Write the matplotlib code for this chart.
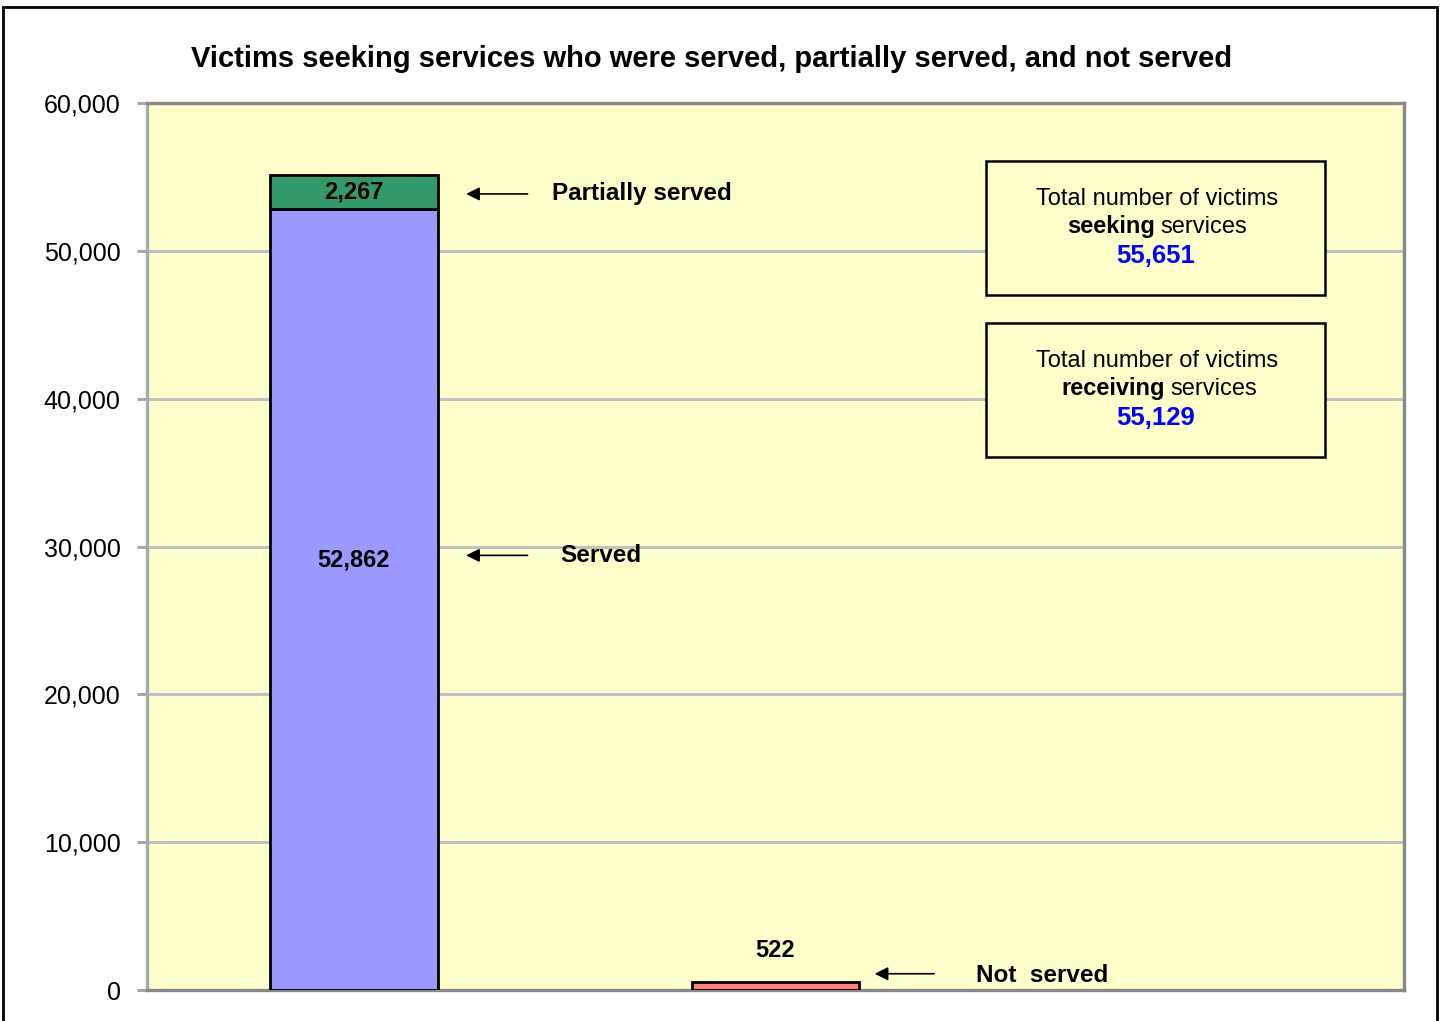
import matplotlib.pyplot as plt
from matplotlib.patches import Rectangle

# data
categories = ['Served / partially served', 'Not served', '']
served = [52862, 0]
partially_served = [2267, 0]
not_served = [0, 522]
total_seeking = 55651
total_receiving = 55129
yticks = [0, 10000, 20000, 30000, 40000, 50000, 60000]

plt.rcParams['font.family'] = ['Liberation Sans', 'DejaVu Sans']

W, H = 1442, 1021
fig = plt.figure(figsize=(W / 100, H / 100), dpi=100)


def fx(px):
    return px / W


def fy(py):
    return 1 - py / H


ax = fig.add_axes([fx(147), fy(990), fx(1404) - fx(147), fy(103) - fy(990)])
ax.set_facecolor('#FFFFCC')

x = [-0.006, 1]
w = 0.4
ax.bar(x[0], served[0], width=w, color='#9999FF', edgecolor='black', linewidth=2, zorder=3)
ax.bar(x[0], partially_served[0], bottom=served[0], width=w, color='#339966',
       edgecolor='black', linewidth=2, zorder=3)
ax.bar(x[1], not_served[1], width=w, color='#FF8080', edgecolor='black', linewidth=2, zorder=3)

ax.set_xlim(-0.5, 2.5)
ax.set_ylim(0, 60000)
ax.set_yticks(yticks)
ax.set_yticklabels([f'{v:,}' for v in yticks], fontsize=18)
ax.set_xticks([])
ax.tick_params(axis='y', length=7, width=2, color='#A0A0A0', pad=12)
ax.yaxis.grid(True, color='#C0C0C0', linewidth=2.2, zorder=0)
ax.set_axisbelow(True)
for side in ['top', 'right', 'bottom']:
    ax.spines[side].set_color('#888888')
    ax.spines[side].set_linewidth(2.4)
ax.spines['left'].set_color('#AAAAAA')
ax.spines['left'].set_linewidth(2.4)

# value labels
ax.text(x[0], served[0] + partially_served[0] / 2, f'{partially_served[0]:,}',
        ha='center', va='center', fontsize=17, fontweight='bold', zorder=4)
ax.text(x[0], 29100, f'{served[0]:,}', ha='center', va='center',
        fontsize=17, fontweight='bold', zorder=4)
ax.text(x[1], 2700, f'{not_served[1]:,}', ha='center', va='center',
        fontsize=17, fontweight='bold', zorder=4)

# arrows + series labels
arrow = dict(arrowstyle='-|>', color='black', lw=1.2, mutation_scale=20)
ax.annotate('', xy=(0.255, 53850), xytext=(0.415, 53850), arrowprops=arrow)
ax.text(0.466, 53850, 'Partially served', ha='left', va='center', fontsize=17.5, fontweight='bold')
ax.annotate('', xy=(0.255, 29400), xytext=(0.415, 29400), arrowprops=arrow)
ax.text(0.486, 29400, 'Served', ha='left', va='center', fontsize=17.5, fontweight='bold')
ax.annotate('', xy=(1.23, 1100), xytext=(1.385, 1100), arrowprops=arrow)
ax.text(1.478, 1000, 'Not  served', ha='left', va='center', fontsize=17.5, fontweight='bold')

# title
fig.text(fx(712), fy(59), 'Victims seeking services who were served, partially served, and not served',
         ha='center', va='center', fontsize=21, fontweight='bold')

# info boxes
for top, word, total in [(161, 'seeking', total_seeking), (323, 'receiving', total_receiving)]:
    fig.patches.append(Rectangle((fx(986), fy(top + 134)), fx(1325) - fx(986), fy(top) - fy(top + 134),
                                 transform=fig.transFigure, facecolor='#FFFFCC',
                                 edgecolor='black', linewidth=1.8, zorder=5))
    fig.text(fx(1157), fy(top + 38), 'Total number of victims', ha='center', va='center',
             fontsize=17, zorder=6)
    split = 1156 if word == 'seeking' else 1166
    fig.text(fx(split - 1), fy(top + 66), word, ha='right', va='center',
             fontsize=17, fontweight='bold', zorder=6)
    fig.text(fx(split + 4), fy(top + 66), 'services', ha='left', va='center',
             fontsize=17, zorder=6)
    fig.text(fx(1156), fy(top + 95), f'{total:,}', ha='center', va='center',
             fontsize=18.5, fontweight='bold', color='#0000FF', zorder=6)

# outer frame
fig.patches.append(Rectangle((fx(3), fy(1030)), fx(1437) - fx(3), fy(7) - fy(1030),
                             transform=fig.transFigure, fill=False, edgecolor='black',
                             linewidth=2, clip_on=False))

fig.savefig('out.png', dpi=100)
